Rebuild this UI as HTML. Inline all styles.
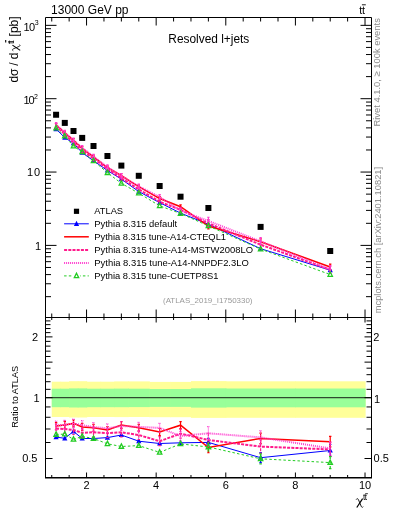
<!DOCTYPE html><html><head><meta charset="utf-8"><style>html,body{margin:0;padding:0;background:#fff;}svg{display:block;will-change:transform}</style></head><body><svg width="393" height="512" viewBox="0 0 393 512" font-family="Liberation Sans, sans-serif"><rect x="0" y="0" width="393" height="512" fill="#fff"/><rect x="51.74" y="381.7" width="9.30" height="35.30" fill="#ffff99"/><rect x="60.44" y="381.7" width="9.30" height="35.30" fill="#ffff99"/><rect x="69.15" y="381.2" width="9.30" height="36.30" fill="#ffff99"/><rect x="77.85" y="381.2" width="9.30" height="36.30" fill="#ffff99"/><rect x="86.55" y="381.7" width="14.52" height="35.30" fill="#ffff99"/><rect x="100.47" y="381.7" width="14.52" height="35.30" fill="#ffff99"/><rect x="114.40" y="381.4" width="14.52" height="35.70" fill="#ffff99"/><rect x="128.32" y="381.4" width="21.49" height="35.60" fill="#ffff99"/><rect x="149.21" y="381.9" width="21.49" height="35.30" fill="#ffff99"/><rect x="170.09" y="381.9" width="21.49" height="35.30" fill="#ffff99"/><rect x="190.98" y="381.1" width="35.41" height="36.80" fill="#ffff99"/><rect x="225.79" y="381.3" width="70.22" height="36.50" fill="#ffff99"/><rect x="295.41" y="381.3" width="70.22" height="36.50" fill="#ffff99"/><rect x="51.74" y="388.7" width="9.30" height="18.50" fill="#99ff99"/><rect x="60.44" y="388.7" width="9.30" height="18.50" fill="#99ff99"/><rect x="69.15" y="388.4" width="9.30" height="19.10" fill="#99ff99"/><rect x="77.85" y="388.4" width="9.30" height="19.10" fill="#99ff99"/><rect x="86.55" y="388.7" width="14.52" height="18.50" fill="#99ff99"/><rect x="100.47" y="388.7" width="14.52" height="18.50" fill="#99ff99"/><rect x="114.40" y="388.6" width="14.52" height="18.60" fill="#99ff99"/><rect x="128.32" y="388.7" width="21.49" height="18.40" fill="#99ff99"/><rect x="149.21" y="389.0" width="21.49" height="17.90" fill="#99ff99"/><rect x="170.09" y="389.0" width="21.49" height="17.90" fill="#99ff99"/><rect x="190.98" y="388.3" width="35.41" height="19.30" fill="#99ff99"/><rect x="225.79" y="388.5" width="70.22" height="18.80" fill="#99ff99"/><rect x="295.41" y="388.5" width="70.22" height="18.80" fill="#99ff99"/><line x1="45.5" y1="397.6" x2="371.5" y2="397.6" stroke="#2f4a2f" stroke-width="1.2"/><polyline points="56.09,437.10 64.79,438.30 73.50,431.40 82.20,438.50 93.51,438.50 107.44,437.60 121.36,435.00 138.77,441.20 159.65,443.50 180.54,442.80 208.39,442.40 260.60,457.70 330.22,450.50" fill="none" stroke="#0000ff" stroke-width="1" stroke-linejoin="miter"/><path d="M208.39 438.40V446.40M207.19 438.40h2.4M207.19 446.40h2.4M260.60 452.70V462.70M259.40 452.70h2.4M259.40 462.70h2.4M330.22 444.50V456.50M329.02 444.50h2.4M329.02 456.50h2.4" fill="none" stroke="#0000ff" stroke-width="1.2"/><polygon points="56.09,433.98 58.69,439.18 53.49,439.18" fill="#0000ff"/><polygon points="64.79,435.18 67.39,440.38 62.19,440.38" fill="#0000ff"/><polygon points="73.50,428.28 76.10,433.48 70.90,433.48" fill="#0000ff"/><polygon points="82.20,435.38 84.80,440.58 79.60,440.58" fill="#0000ff"/><polygon points="93.51,435.38 96.11,440.58 90.91,440.58" fill="#0000ff"/><polygon points="107.44,434.48 110.04,439.68 104.84,439.68" fill="#0000ff"/><polygon points="121.36,431.88 123.96,437.08 118.76,437.08" fill="#0000ff"/><polygon points="138.77,438.08 141.37,443.28 136.17,443.28" fill="#0000ff"/><polygon points="159.65,440.38 162.25,445.58 157.05,445.58" fill="#0000ff"/><polygon points="180.54,439.68 183.14,444.88 177.94,444.88" fill="#0000ff"/><polygon points="208.39,439.28 210.99,444.48 205.79,444.48" fill="#0000ff"/><polygon points="260.60,454.58 263.20,459.78 258.00,459.78" fill="#0000ff"/><polygon points="330.22,447.38 332.82,452.58 327.62,452.58" fill="#0000ff"/><polyline points="56.09,426.10 64.79,424.90 73.50,423.40 82.20,426.90 93.51,427.80 107.44,430.00 121.36,425.10 138.77,427.80 159.65,432.00 180.54,425.20 208.39,447.50 260.60,438.40 330.22,441.70" fill="none" stroke="#ff0000" stroke-width="1.5" stroke-linejoin="miter"/><path d="M56.09 422.60V429.60M54.89 422.60h2.4M54.89 429.60h2.4M64.79 421.40V428.40M63.59 421.40h2.4M63.59 428.40h2.4M73.50 419.90V426.90M72.30 419.90h2.4M72.30 426.90h2.4M82.20 423.40V430.40M81.00 423.40h2.4M81.00 430.40h2.4M93.51 424.30V431.30M92.31 424.30h2.4M92.31 431.30h2.4M107.44 426.50V433.50M106.24 426.50h2.4M106.24 433.50h2.4M121.36 421.60V428.60M120.16 421.60h2.4M120.16 428.60h2.4M138.77 424.30V431.30M137.57 424.30h2.4M137.57 431.30h2.4M159.65 428.50V435.50M158.45 428.50h2.4M158.45 435.50h2.4M180.54 421.70V428.70M179.34 421.70h2.4M179.34 428.70h2.4M208.39 442.25V452.75M207.19 442.25h2.4M207.19 452.75h2.4M260.60 433.15V443.65M259.40 433.15h2.4M259.40 443.65h2.4M330.22 436.45V446.95M329.02 436.45h2.4M329.02 446.95h2.4" fill="none" stroke="#ff0000" stroke-width="1.2"/><polyline points="56.09,428.50 64.79,429.00 73.50,430.00 82.20,432.80 93.51,432.30 107.44,433.20 121.36,432.30 138.77,435.00 159.65,441.20 180.54,433.60 208.39,440.00 260.60,446.60 330.22,449.40" fill="none" stroke="#ff1a8c" stroke-width="2" stroke-dasharray="3 1.2" stroke-linejoin="miter"/><path d="M56.09 424.00V433.00M54.89 424.00h2.4M54.89 433.00h2.4M64.79 424.50V433.50M63.59 424.50h2.4M63.59 433.50h2.4M73.50 425.50V434.50M72.30 425.50h2.4M72.30 434.50h2.4M82.20 428.30V437.30M81.00 428.30h2.4M81.00 437.30h2.4M93.51 427.80V436.80M92.31 427.80h2.4M92.31 436.80h2.4M107.44 428.70V437.70M106.24 428.70h2.4M106.24 437.70h2.4M121.36 427.80V436.80M120.16 427.80h2.4M120.16 436.80h2.4M138.77 430.50V439.50M137.57 430.50h2.4M137.57 439.50h2.4M159.65 436.70V445.70M158.45 436.70h2.4M158.45 445.70h2.4M180.54 429.10V438.10M179.34 429.10h2.4M179.34 438.10h2.4M208.39 433.25V446.75M207.19 433.25h2.4M207.19 446.75h2.4M260.60 439.85V453.35M259.40 439.85h2.4M259.40 453.35h2.4M330.22 442.65V456.15M329.02 442.65h2.4M329.02 456.15h2.4" fill="none" stroke="#ff1a8c" stroke-width="1.2" stroke-dasharray="3 1.2"/><polyline points="56.09,425.50 64.79,424.80 73.50,423.50 82.20,425.10 93.51,427.00 107.44,428.30 121.36,426.00 138.77,426.90 159.65,427.90 180.54,436.00 208.39,433.30 260.60,437.40 330.22,448.40" fill="none" stroke="#ff3ccf" stroke-width="2" stroke-dasharray="1 1" stroke-linejoin="miter"/><path d="M56.09 421.00V430.00M54.89 421.00h2.4M54.89 430.00h2.4M64.79 420.30V429.30M63.59 420.30h2.4M63.59 429.30h2.4M73.50 419.00V428.00M72.30 419.00h2.4M72.30 428.00h2.4M82.20 420.60V429.60M81.00 420.60h2.4M81.00 429.60h2.4M93.51 422.50V431.50M92.31 422.50h2.4M92.31 431.50h2.4M107.44 423.80V432.80M106.24 423.80h2.4M106.24 432.80h2.4M121.36 421.50V430.50M120.16 421.50h2.4M120.16 430.50h2.4M138.77 422.40V431.40M137.57 422.40h2.4M137.57 431.40h2.4M159.65 423.40V432.40M158.45 423.40h2.4M158.45 432.40h2.4M180.54 431.50V440.50M179.34 431.50h2.4M179.34 440.50h2.4M208.39 426.55V440.05M207.19 426.55h2.4M207.19 440.05h2.4M260.60 430.65V444.15M259.40 430.65h2.4M259.40 444.15h2.4M330.22 441.65V455.15M329.02 441.65h2.4M329.02 455.15h2.4" fill="none" stroke="#ff3ccf" stroke-width="1.2" stroke-dasharray="1 1"/><polyline points="56.09,434.50 64.79,434.10 73.50,439.40 82.20,436.40 93.51,438.50 107.44,443.80 121.36,446.50 138.77,445.60 159.65,452.40 180.54,443.90 208.39,447.00 260.60,458.80 330.22,462.60" fill="none" stroke="#22cc22" stroke-width="1" stroke-dasharray="2.5 2.2" stroke-linejoin="miter"/><path d="M208.39 443.00V451.00M207.19 443.00h2.4M207.19 451.00h2.4M260.60 453.80V463.80M259.40 453.80h2.4M259.40 463.80h2.4M330.22 456.60V468.60M329.02 456.60h2.4M329.02 468.60h2.4" fill="none" stroke="#22cc22" stroke-width="1.2" stroke-dasharray="2.5 2.2"/><polygon points="56.09,431.86 58.29,436.26 53.89,436.26" fill="none" stroke="#22cc22" stroke-width="1.3"/><polygon points="64.79,431.46 66.99,435.86 62.59,435.86" fill="none" stroke="#22cc22" stroke-width="1.3"/><polygon points="73.50,436.76 75.70,441.16 71.30,441.16" fill="none" stroke="#22cc22" stroke-width="1.3"/><polygon points="82.20,433.76 84.40,438.16 80.00,438.16" fill="none" stroke="#22cc22" stroke-width="1.3"/><polygon points="93.51,435.86 95.71,440.26 91.31,440.26" fill="none" stroke="#22cc22" stroke-width="1.3"/><polygon points="107.44,441.16 109.64,445.56 105.24,445.56" fill="none" stroke="#22cc22" stroke-width="1.3"/><polygon points="121.36,443.86 123.56,448.26 119.16,448.26" fill="none" stroke="#22cc22" stroke-width="1.3"/><polygon points="138.77,442.96 140.97,447.36 136.57,447.36" fill="none" stroke="#22cc22" stroke-width="1.3"/><polygon points="159.65,449.76 161.85,454.16 157.45,454.16" fill="none" stroke="#22cc22" stroke-width="1.3"/><polygon points="180.54,441.26 182.74,445.66 178.34,445.66" fill="none" stroke="#22cc22" stroke-width="1.3"/><polygon points="208.39,444.36 210.59,448.76 206.19,448.76" fill="none" stroke="#22cc22" stroke-width="1.3"/><polygon points="260.60,456.16 262.80,460.56 258.40,460.56" fill="none" stroke="#22cc22" stroke-width="1.3"/><polygon points="330.22,459.96 332.42,464.36 328.02,464.36" fill="none" stroke="#22cc22" stroke-width="1.3"/><polyline points="56.09,129.06 64.79,137.64 73.50,143.24 82.20,152.71 93.51,160.81 107.44,170.49 121.36,179.14 138.77,191.59 159.65,202.63 180.54,213.08 208.39,224.23 260.60,248.69 330.22,270.17" fill="none" stroke="#0000ff" stroke-width="1" stroke-linejoin="miter"/><polygon points="56.09,125.94 58.69,131.14 53.49,131.14" fill="#0000ff"/><polygon points="64.79,134.52 67.39,139.72 62.19,139.72" fill="#0000ff"/><polygon points="73.50,140.12 76.10,145.32 70.90,145.32" fill="#0000ff"/><polygon points="82.20,149.59 84.80,154.79 79.60,154.79" fill="#0000ff"/><polygon points="93.51,157.69 96.11,162.89 90.91,162.89" fill="#0000ff"/><polygon points="107.44,167.37 110.04,172.57 104.84,172.57" fill="#0000ff"/><polygon points="121.36,176.02 123.96,181.22 118.76,181.22" fill="#0000ff"/><polygon points="138.77,188.47 141.37,193.67 136.17,193.67" fill="#0000ff"/><polygon points="159.65,199.51 162.25,204.71 157.05,204.71" fill="#0000ff"/><polygon points="180.54,209.96 183.14,215.16 177.94,215.16" fill="#0000ff"/><polygon points="208.39,221.11 210.99,226.31 205.79,226.31" fill="#0000ff"/><polygon points="260.60,245.57 263.20,250.77 258.00,250.77" fill="#0000ff"/><polygon points="330.22,267.05 332.82,272.25 327.62,272.25" fill="#0000ff"/><polyline points="56.09,125.06 64.79,132.78 73.50,140.33 82.20,148.50 93.51,156.93 107.44,167.73 121.36,175.55 138.77,186.73 159.65,198.45 180.54,206.69 208.39,226.08 260.60,241.68 330.22,266.98" fill="none" stroke="#ff0000" stroke-width="1.5" stroke-linejoin="miter"/><path d="M56.09 123.28V126.84M54.89 123.28h2.4M54.89 126.84h2.4M64.79 131.00V134.56M63.59 131.00h2.4M63.59 134.56h2.4M73.50 138.55V142.11M72.30 138.55h2.4M72.30 142.11h2.4M82.20 146.72V150.28M81.00 146.72h2.4M81.00 150.28h2.4M93.51 155.15V158.71M92.31 155.15h2.4M92.31 158.71h2.4M107.44 165.95V169.51M106.24 165.95h2.4M106.24 169.51h2.4M121.36 173.77V177.33M120.16 173.77h2.4M120.16 177.33h2.4M138.77 184.95V188.51M137.57 184.95h2.4M137.57 188.51h2.4M159.65 196.68V200.23M158.45 196.68h2.4M158.45 200.23h2.4M180.54 204.91V208.46M179.34 204.91h2.4M179.34 208.46h2.4M208.39 223.24V228.93M207.19 223.24h2.4M207.19 228.93h2.4M260.60 238.83V244.52M259.40 238.83h2.4M259.40 244.52h2.4M330.22 264.13V269.82M329.02 264.13h2.4M329.02 269.82h2.4" fill="none" stroke="#ff0000" stroke-width="1.2"/><polyline points="56.09,125.93 64.79,134.27 73.50,142.73 82.20,150.64 93.51,158.56 107.44,168.89 121.36,178.16 138.77,189.34 159.65,201.79 180.54,209.74 208.39,223.36 260.60,244.66 330.22,269.77" fill="none" stroke="#ff1a8c" stroke-width="2" stroke-dasharray="3 1.2" stroke-linejoin="miter"/><path d="M56.09 123.65V128.22M54.89 123.65h2.4M54.89 128.22h2.4M64.79 131.98V136.55M63.59 131.98h2.4M63.59 136.55h2.4M73.50 140.44V145.02M72.30 140.44h2.4M72.30 145.02h2.4M82.20 148.36V152.93M81.00 148.36h2.4M81.00 152.93h2.4M93.51 156.28V160.85M92.31 156.28h2.4M92.31 160.85h2.4M107.44 166.60V171.18M106.24 166.60h2.4M106.24 171.18h2.4M121.36 175.88V180.45M120.16 175.88h2.4M120.16 180.45h2.4M138.77 187.06V191.63M137.57 187.06h2.4M137.57 191.63h2.4M159.65 199.51V204.08M158.45 199.51h2.4M158.45 204.08h2.4M180.54 207.45V212.02M179.34 207.45h2.4M179.34 212.02h2.4M208.39 219.70V227.02M207.19 219.70h2.4M207.19 227.02h2.4M260.60 241.00V248.32M259.40 241.00h2.4M259.40 248.32h2.4M330.22 266.11V273.43M329.02 266.11h2.4M329.02 273.43h2.4" fill="none" stroke="#ff1a8c" stroke-width="1.2"/><polyline points="56.09,124.84 64.79,132.74 73.50,140.37 82.20,147.85 93.51,156.64 107.44,167.11 121.36,175.88 138.77,186.40 159.65,196.97 180.54,210.61 208.39,220.93 260.60,241.32 330.22,269.41" fill="none" stroke="#ff3ccf" stroke-width="2" stroke-dasharray="1 1" stroke-linejoin="miter"/><path d="M56.09 122.56V127.13M54.89 122.56h2.4M54.89 127.13h2.4M64.79 130.45V135.03M63.59 130.45h2.4M63.59 135.03h2.4M73.50 138.08V142.66M72.30 138.08h2.4M72.30 142.66h2.4M82.20 145.56V150.14M81.00 145.56h2.4M81.00 150.14h2.4M93.51 154.35V158.93M92.31 154.35h2.4M92.31 158.93h2.4M107.44 164.82V169.40M106.24 164.82h2.4M106.24 169.40h2.4M121.36 173.59V178.16M120.16 173.59h2.4M120.16 178.16h2.4M138.77 184.11V188.69M137.57 184.11h2.4M137.57 188.69h2.4M159.65 194.68V199.25M158.45 194.68h2.4M158.45 199.25h2.4M180.54 208.32V212.89M179.34 208.32h2.4M179.34 212.89h2.4M208.39 217.27V224.59M207.19 217.27h2.4M207.19 224.59h2.4M260.60 237.66V244.98M259.40 237.66h2.4M259.40 244.98h2.4M330.22 265.75V273.07M329.02 265.75h2.4M329.02 273.07h2.4" fill="none" stroke="#ff3ccf" stroke-width="1.2"/><polyline points="56.09,128.11 64.79,136.12 73.50,146.14 82.20,151.95 93.51,160.81 107.44,172.74 121.36,183.32 138.77,193.19 159.65,205.86 180.54,213.48 208.39,225.90 260.60,249.09 330.22,274.57" fill="none" stroke="#22cc22" stroke-width="1" stroke-dasharray="2.5 2.2" stroke-linejoin="miter"/><polygon points="56.09,125.47 58.29,129.87 53.89,129.87" fill="none" stroke="#22cc22" stroke-width="1.3"/><polygon points="64.79,133.48 66.99,137.88 62.59,137.88" fill="none" stroke="#22cc22" stroke-width="1.3"/><polygon points="73.50,143.50 75.70,147.90 71.30,147.90" fill="none" stroke="#22cc22" stroke-width="1.3"/><polygon points="82.20,149.31 84.40,153.71 80.00,153.71" fill="none" stroke="#22cc22" stroke-width="1.3"/><polygon points="93.51,158.17 95.71,162.57 91.31,162.57" fill="none" stroke="#22cc22" stroke-width="1.3"/><polygon points="107.44,170.10 109.64,174.50 105.24,174.50" fill="none" stroke="#22cc22" stroke-width="1.3"/><polygon points="121.36,180.68 123.56,185.08 119.16,185.08" fill="none" stroke="#22cc22" stroke-width="1.3"/><polygon points="138.77,190.55 140.97,194.95 136.57,194.95" fill="none" stroke="#22cc22" stroke-width="1.3"/><polygon points="159.65,203.22 161.85,207.62 157.45,207.62" fill="none" stroke="#22cc22" stroke-width="1.3"/><polygon points="180.54,210.84 182.74,215.24 178.34,215.24" fill="none" stroke="#22cc22" stroke-width="1.3"/><polygon points="208.39,223.26 210.59,227.66 206.19,227.66" fill="none" stroke="#22cc22" stroke-width="1.3"/><polygon points="260.60,246.45 262.80,250.85 258.40,250.85" fill="none" stroke="#22cc22" stroke-width="1.3"/><polygon points="330.22,271.93 332.42,276.33 328.02,276.33" fill="none" stroke="#22cc22" stroke-width="1.3"/><rect x="53.09" y="111.75" width="6" height="6" fill="#000"/><rect x="61.79" y="119.90" width="6" height="6" fill="#000"/><rect x="70.50" y="128.00" width="6" height="6" fill="#000"/><rect x="79.20" y="134.90" width="6" height="6" fill="#000"/><rect x="90.51" y="143.00" width="6" height="6" fill="#000"/><rect x="104.44" y="153.00" width="6" height="6" fill="#000"/><rect x="118.36" y="162.60" width="6" height="6" fill="#000"/><rect x="135.77" y="172.80" width="6" height="6" fill="#000"/><rect x="156.65" y="183.00" width="6" height="6" fill="#000"/><rect x="177.54" y="193.70" width="6" height="6" fill="#000"/><rect x="205.39" y="205.00" width="6" height="6" fill="#000"/><rect x="257.60" y="223.90" width="6" height="6" fill="#000"/><rect x="327.22" y="248.00" width="6" height="6" fill="#000"/><path d="M51.74 17.50L51.74 21.50M51.74 317.50L51.74 313.50M51.74 317.50L51.74 320.00M51.74 477.50L51.74 475.00M69.15 17.50L69.15 21.50M69.15 317.50L69.15 313.50M69.15 317.50L69.15 320.00M69.15 477.50L69.15 475.00M86.55 17.50L86.55 25.50M86.55 317.50L86.55 309.50M86.55 317.50L86.55 322.50M86.55 477.50L86.55 472.50M103.96 17.50L103.96 21.50M103.96 317.50L103.96 313.50M103.96 317.50L103.96 320.00M103.96 477.50L103.96 475.00M121.36 17.50L121.36 21.50M121.36 317.50L121.36 313.50M121.36 317.50L121.36 320.00M121.36 477.50L121.36 475.00M138.77 17.50L138.77 21.50M138.77 317.50L138.77 313.50M138.77 317.50L138.77 320.00M138.77 477.50L138.77 475.00M156.17 17.50L156.17 25.50M156.17 317.50L156.17 309.50M156.17 317.50L156.17 322.50M156.17 477.50L156.17 472.50M173.58 17.50L173.58 21.50M173.58 317.50L173.58 313.50M173.58 317.50L173.58 320.00M173.58 477.50L173.58 475.00M190.98 17.50L190.98 21.50M190.98 317.50L190.98 313.50M190.98 317.50L190.98 320.00M190.98 477.50L190.98 475.00M208.39 17.50L208.39 21.50M208.39 317.50L208.39 313.50M208.39 317.50L208.39 320.00M208.39 477.50L208.39 475.00M225.79 17.50L225.79 25.50M225.79 317.50L225.79 309.50M225.79 317.50L225.79 322.50M225.79 477.50L225.79 472.50M243.20 17.50L243.20 21.50M243.20 317.50L243.20 313.50M243.20 317.50L243.20 320.00M243.20 477.50L243.20 475.00M260.60 17.50L260.60 21.50M260.60 317.50L260.60 313.50M260.60 317.50L260.60 320.00M260.60 477.50L260.60 475.00M278.00 17.50L278.00 21.50M278.00 317.50L278.00 313.50M278.00 317.50L278.00 320.00M278.00 477.50L278.00 475.00M295.41 17.50L295.41 25.50M295.41 317.50L295.41 309.50M295.41 317.50L295.41 322.50M295.41 477.50L295.41 472.50M312.82 17.50L312.82 21.50M312.82 317.50L312.82 313.50M312.82 317.50L312.82 320.00M312.82 477.50L312.82 475.00M330.22 17.50L330.22 21.50M330.22 317.50L330.22 313.50M330.22 317.50L330.22 320.00M330.22 477.50L330.22 475.00M347.62 17.50L347.62 21.50M347.62 317.50L347.62 313.50M347.62 317.50L347.62 320.00M347.62 477.50L347.62 475.00M365.03 17.50L365.03 25.50M365.03 317.50L365.03 309.50M365.03 317.50L365.03 322.50M365.03 477.50L365.03 472.50M45.50 296.67L51.00 296.67M371.50 296.67L366.00 296.67M45.50 283.75L51.00 283.75M371.50 283.75L366.00 283.75M45.50 274.59L51.00 274.59M371.50 274.59L366.00 274.59M45.50 267.48L51.00 267.48M371.50 267.48L366.00 267.48M45.50 261.67L51.00 261.67M371.50 261.67L366.00 261.67M45.50 256.76L51.00 256.76M371.50 256.76L366.00 256.76M45.50 252.51L51.00 252.51M371.50 252.51L366.00 252.51M45.50 248.76L51.00 248.76M371.50 248.76L366.00 248.76M45.50 245.40L56.50 245.40M371.50 245.40L360.50 245.40M45.50 223.32L51.00 223.32M371.50 223.32L366.00 223.32M45.50 210.40L51.00 210.40M371.50 210.40L366.00 210.40M45.50 201.24L51.00 201.24M371.50 201.24L366.00 201.24M45.50 194.13L51.00 194.13M371.50 194.13L366.00 194.13M45.50 188.32L51.00 188.32M371.50 188.32L366.00 188.32M45.50 183.41L51.00 183.41M371.50 183.41L366.00 183.41M45.50 179.16L51.00 179.16M371.50 179.16L366.00 179.16M45.50 175.41L51.00 175.41M371.50 175.41L366.00 175.41M45.50 172.05L56.50 172.05M371.50 172.05L360.50 172.05M45.50 149.97L51.00 149.97M371.50 149.97L366.00 149.97M45.50 137.05L51.00 137.05M371.50 137.05L366.00 137.05M45.50 127.89L51.00 127.89M371.50 127.89L366.00 127.89M45.50 120.78L51.00 120.78M371.50 120.78L366.00 120.78M45.50 114.97L51.00 114.97M371.50 114.97L366.00 114.97M45.50 110.06L51.00 110.06M371.50 110.06L366.00 110.06M45.50 105.81L51.00 105.81M371.50 105.81L366.00 105.81M45.50 102.06L51.00 102.06M371.50 102.06L366.00 102.06M45.50 98.70L56.50 98.70M371.50 98.70L360.50 98.70M45.50 76.62L51.00 76.62M371.50 76.62L366.00 76.62M45.50 63.70L51.00 63.70M371.50 63.70L366.00 63.70M45.50 54.54L51.00 54.54M371.50 54.54L366.00 54.54M45.50 47.43L51.00 47.43M371.50 47.43L366.00 47.43M45.50 41.62L51.00 41.62M371.50 41.62L366.00 41.62M45.50 36.71L51.00 36.71M371.50 36.71L366.00 36.71M45.50 32.46L51.00 32.46M371.50 32.46L366.00 32.46M45.50 28.71L51.00 28.71M371.50 28.71L366.00 28.71M45.50 25.35L56.50 25.35M371.50 25.35L360.50 25.35M45.50 458.51L52.50 458.51M371.50 458.51L364.50 458.51M45.50 442.51L50.50 442.51M371.50 442.51L366.50 442.51M45.50 428.99L50.50 428.99M371.50 428.99L366.50 428.99M45.50 417.28L50.50 417.28M371.50 417.28L366.50 417.28M45.50 406.94L50.50 406.94M371.50 406.94L366.50 406.94M45.50 397.70L52.50 397.70M371.50 397.70L364.50 397.70M45.50 389.34L50.50 389.34M371.50 389.34L366.50 389.34M45.50 381.71L50.50 381.71M371.50 381.71L366.50 381.71M45.50 374.68L50.50 374.68M371.50 374.68L366.50 374.68M45.50 368.18L50.50 368.18M371.50 368.18L366.50 368.18M45.50 362.13L52.50 362.13M371.50 362.13L364.50 362.13M45.50 356.47L50.50 356.47M371.50 356.47L366.50 356.47M45.50 351.15L50.50 351.15M371.50 351.15L366.50 351.15M45.50 346.13L50.50 346.13M371.50 346.13L366.50 346.13M45.50 341.39L50.50 341.39M371.50 341.39L366.50 341.39M45.50 336.89L52.50 336.89M371.50 336.89L364.50 336.89M45.50 332.61L50.50 332.61M371.50 332.61L366.50 332.61M45.50 328.53L50.50 328.53M371.50 328.53L366.50 328.53M45.50 324.63L50.50 324.63M371.50 324.63L366.50 324.63M45.50 320.90L50.50 320.90M371.50 320.90L366.50 320.90" stroke="#000" stroke-width="1" fill="none"/><path d="M45.5 477.6V17.5H371.5V477.6" fill="none" stroke="#000" stroke-width="1"/><line x1="45.0" y1="477.75" x2="372.0" y2="477.75" stroke="#000" stroke-width="1.6"/><line x1="45.5" y1="317.5" x2="371.5" y2="317.5" stroke="#000" stroke-width="1"/><text x="51.1" y="13.8" font-size="12">13000 GeV pp</text><text x="359.2" y="14" font-size="10.9" letter-spacing="-0.15">tt</text><line x1="361.9" y1="4.8" x2="365.8" y2="4.8" stroke="#000" stroke-width="0.9"/><text x="168.3" y="42.9" font-size="11.9">Resolved l+jets</text><text x="23.4" y="30.9" font-size="11" letter-spacing="-0.6">10</text><text x="34.8" y="25.3" font-size="7">3</text><text x="23.6" y="103.8" font-size="11" letter-spacing="-1.2">10</text><text x="34" y="98.6" font-size="7">2</text><text x="27" y="176" font-size="11" letter-spacing="0.8">10</text><text x="35" y="249.8" font-size="11">1</text><text x="32" y="341" font-size="11">2</text><text x="33.6" y="402" font-size="11">1</text><text x="22.2" y="462" font-size="11">0.5</text><text x="373.3" y="340.8" font-size="11">2</text><text x="373.9" y="402.8" font-size="11">1</text><text x="373.6" y="462.1" font-size="11">0.5</text><text x="86.55" y="489" font-size="11" text-anchor="middle">2</text><text x="156.17" y="489" font-size="11" text-anchor="middle">4</text><text x="225.79" y="489" font-size="11" text-anchor="middle">6</text><text x="295.41" y="489" font-size="11" text-anchor="middle">8</text><text x="365.03" y="489" font-size="11" text-anchor="middle">10</text><g transform="translate(356.1,498.3) scale(0.986,0.99)"><path d="M6.6 0.4L0.7 9.3" stroke="#000" stroke-width="1.25" fill="none"/><path d="M0.1 1.3C0.7 0.1 1.8 0.1 2.3 1.2L5.2 8.1C5.7 9.3 6.6 9.4 7.2 8.5" stroke="#000" stroke-width="0.9" fill="none"/></g><text x="363" y="499.7" font-size="8.3" letter-spacing="-0.5">tt</text><line x1="365.2" y1="493.7" x2="367.9" y2="493.7" stroke="#000" stroke-width="0.8"/><g transform="translate(18.3,0) rotate(-90)"><text x="-82.6" y="0" font-size="12">dσ</text><text x="-65.8" y="0" font-size="12">/</text><text x="-59.2" y="0" font-size="12">d</text><g transform="translate(-51,-6.2) scale(0.89,0.874)"><path d="M6.6 0.4L0.7 9.3" stroke="#000" stroke-width="1.25" fill="none"/><path d="M0.1 1.3C0.7 0.1 1.8 0.1 2.3 1.2L5.2 8.1C5.7 9.3 6.6 9.4 7.2 8.5" stroke="#000" stroke-width="0.9" fill="none"/></g><text x="-43.9" y="-4.5" font-size="8.5" letter-spacing="-1.1">tt</text><line x1="-42.6" y1="-12.6" x2="-39.9" y2="-12.6" stroke="#000" stroke-width="1.1"/><text x="-36.4" y="0" font-size="12">[pb]</text></g><g transform="translate(18.4,427.8) rotate(-90)"><text x="0" y="0" font-size="9.17">Ratio to ATLAS</text></g><g transform="translate(380,126.5) rotate(-90)"><text x="0" y="0" font-size="9.39" fill="#8a8a8a">Rivet 4.1.0, ≥ 100k events</text></g><g transform="translate(380.6,313.3) rotate(-90)"><text x="0" y="0" font-size="9.36" fill="#8a8a8a">mcplots.cern.ch [arXiv:2401.10821]</text></g><rect x="73.9" y="208.7" width="5.2" height="5.2" fill="#000"/><text x="94.3" y="213.5" font-size="9.3">ATLAS</text><text x="94.3" y="226.6" font-size="9.4">Pythia 8.315 default</text><polyline points="64.10,223.80 88.80,223.80" fill="none" stroke="#0000ff" stroke-width="1" stroke-linejoin="miter"/><polygon points="76.50,220.68 79.10,225.88 73.90,225.88" fill="#0000ff"/><text x="94.3" y="239.6" font-size="9.34">Pythia 8.315 tune-A14-CTEQL1</text><polyline points="64.10,236.80 88.80,236.80" fill="none" stroke="#ff0000" stroke-width="1.5" stroke-linejoin="miter"/><text x="94.3" y="252.7" font-size="9.44">Pythia 8.315 tune-A14-MSTW2008LO</text><polyline points="64.10,249.90 88.80,249.90" fill="none" stroke="#ff1a8c" stroke-width="2" stroke-dasharray="3 1.2" stroke-linejoin="miter"/><text x="94.3" y="265.7" font-size="9.44">Pythia 8.315 tune-A14-NNPDF2.3LO</text><polyline points="64.10,262.90 88.80,262.90" fill="none" stroke="#ff3ccf" stroke-width="2" stroke-dasharray="1 1" stroke-linejoin="miter"/><text x="94.3" y="278.7" font-size="9.36">Pythia 8.315 tune-CUETP8S1</text><polyline points="64.10,275.90 88.80,275.90" fill="none" stroke="#22cc22" stroke-width="1" stroke-dasharray="2.5 2.2" stroke-linejoin="miter"/><rect x="73" y="272" width="7" height="8" fill="#fff"/><polygon points="76.50,273.26 78.70,277.66 74.30,277.66" fill="none" stroke="#22cc22" stroke-width="1.3"/><text x="163" y="303" font-size="7.95" fill="#999">(ATLAS_2019_I1750330)</text></svg></body></html>
